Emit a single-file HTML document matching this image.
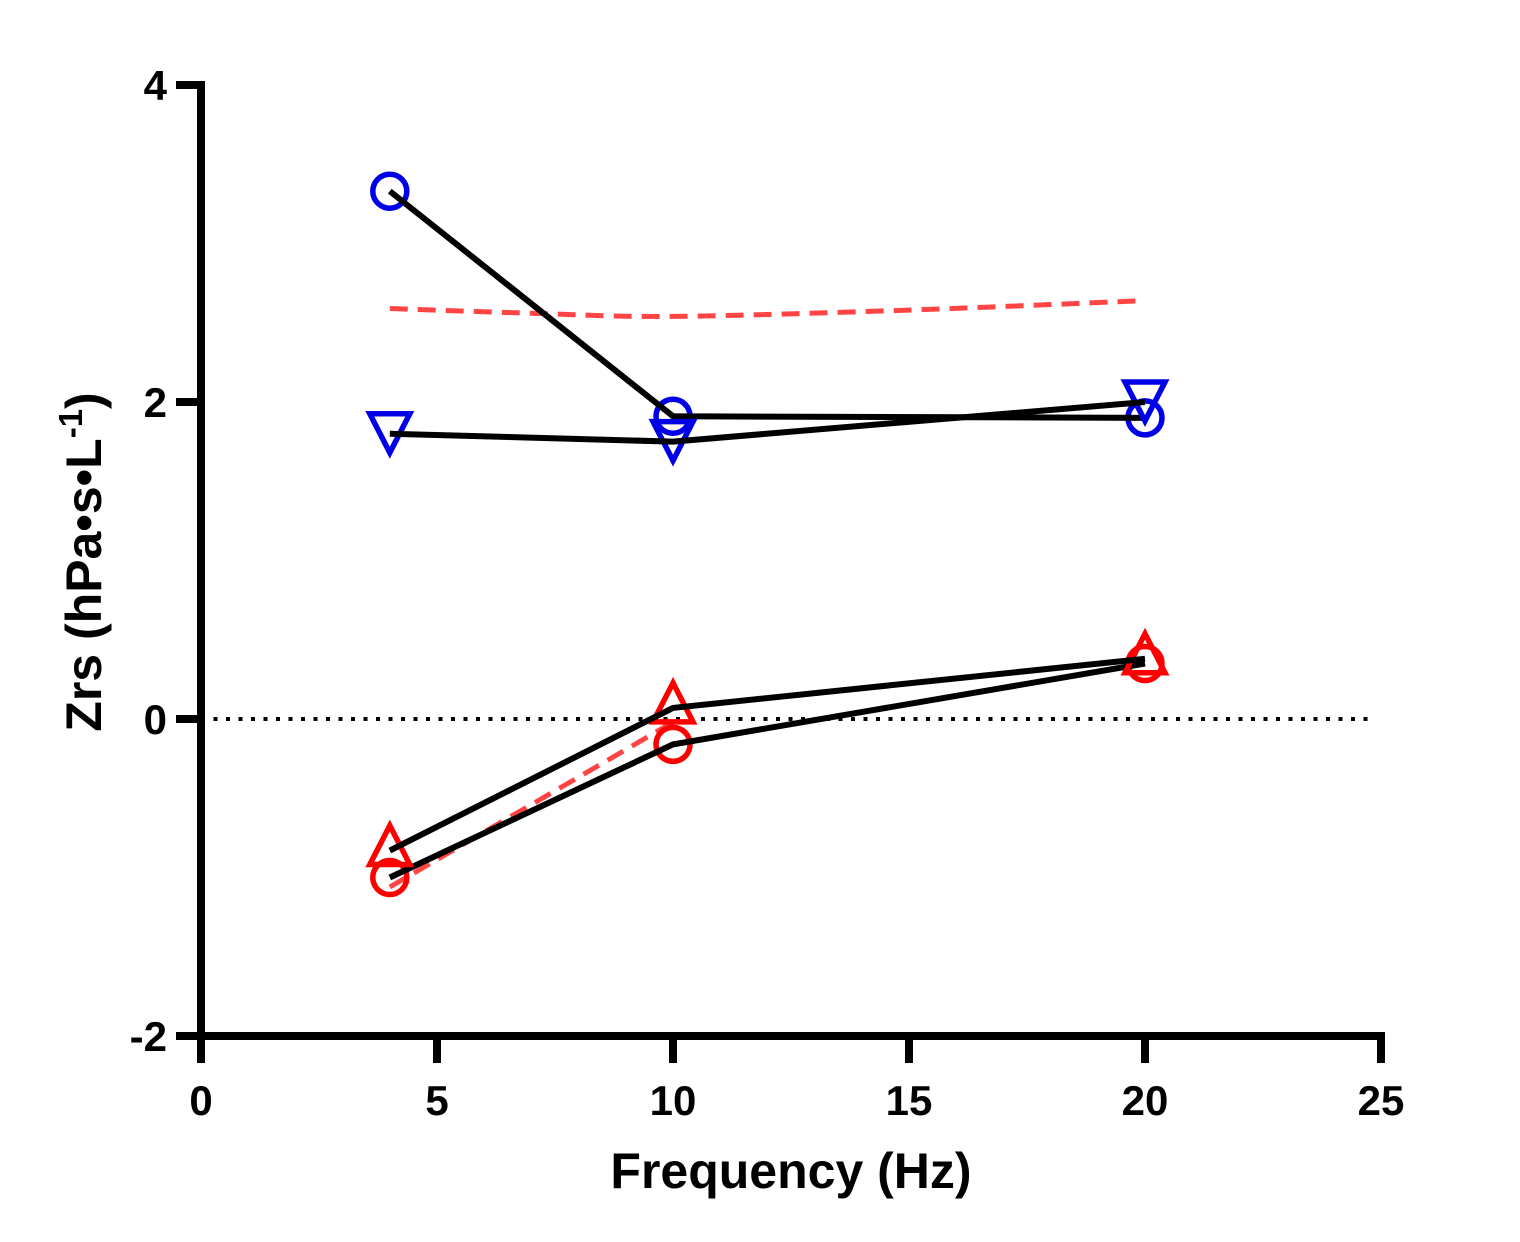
<!DOCTYPE html>
<html><head><meta charset="utf-8"><style>
html,body{margin:0;padding:0;background:#fff}
svg{display:block}
text{font-family:"Liberation Sans",Arial,sans-serif;font-weight:bold;fill:#000}
</style></head><body>
<svg id="chart" width="1520" height="1242" viewBox="0 0 1520 1242" xmlns="http://www.w3.org/2000/svg">
<g id="grid"></g>
<g id="series"></g>
<g id="axes"></g>
</svg>
<script>
const freqs = [4, 10, 20];
const blueCircle = [3.33, 1.91, 1.90];
const blueTriangle = [1.80, 1.75, 2.00];
const redCircle = [-1.00, -0.16, 0.35];
const redTriangle = [-0.83, 0.07, 0.38];
const fitUpperX = [4, 7, 10, 15, 20];
const fitUpperY = [2.59, 2.56, 2.54, 2.58, 2.64];
const fitLowerX = [4, 10];
const fitLowerY = [-1.06, -0.02];
const xTicks = [0, 5, 10, 15, 20, 25];
const yTicks = [-2, 0, 2, 4];

const NS = "http://www.w3.org/2000/svg";
const X0 = 201, X1 = 1381, Y0 = 1036, Y1 = 85;
const xs = v => X0 + (v - 0) / 25 * (X1 - X0);
const ys = v => Y0 - (v + 2) / 6 * (Y0 - Y1);
function mk(tag, attrs, parent) {
  const e = document.createElementNS(NS, tag);
  for (const k in attrs) e.setAttribute(k, attrs[k]);
  parent.appendChild(e);
  return e;
}
const S = document.getElementById('series');
const A = document.getElementById('axes');
const G = document.getElementById('grid');

const zl = mk('line', {x1: X0, x2: 1375, y1: ys(0), y2: ys(0), stroke: '#000', 'stroke-width': 4, 'stroke-dasharray': '4 8.5'}, G);



function smoothPath(xa, ya) {
  let d = '';
  for (let i = 0; i < xa.length; i++) {
    const px = xs(xa[i]), py = ys(ya[i]);
    if (i === 0) { d += `M${px},${py}`; continue; }
    const p0x = xs(xa[Math.max(i - 2, 0)]), p0y = ys(ya[Math.max(i - 2, 0)]);
    const p1x = xs(xa[i - 1]), p1y = ys(ya[i - 1]);
    const p3x = xs(xa[Math.min(i + 1, xa.length - 1)]), p3y = ys(ya[Math.min(i + 1, xa.length - 1)]);
    const c1x = p1x + (px - p0x) / 6, c1y = p1y + (py - p0y) / 6;
    const c2x = px - (p3x - p1x) / 6, c2y = py - (p3y - p1y) / 6;
    d += ` C${c1x},${c1y} ${c2x},${c2y} ${px},${py}`;
  }
  return d;
}
const fu = mk('path', {d: smoothPath(fitUpperX, fitUpperY), fill: 'none', stroke: '#f44', 'stroke-width': 5, 'stroke-dasharray': '18 10'}, S);


const fl = mk('path', {d: smoothPath(fitLowerX, fitLowerY), fill: 'none', stroke: '#f44', 'stroke-width': 5, 'stroke-dasharray': '18 10'}, S);



function series(vals, color, shape, name) {
  const g = mk('g', {}, S);
  
  
  vals.forEach((v, i) => {
    const cx = xs(freqs[i]), cy = ys(v);
    let m;
    if (shape === 'circle') m = mk('circle', {cx, cy, r: 17, fill: 'none', stroke: color, 'stroke-width': 5.5}, g);
    else if (shape === 'down') m = mk('polygon', {points: `${cx-20},${cy-20} ${cx+20},${cy-20} ${cx},${cy+19}`, fill: 'none', stroke: color, 'stroke-width': 5.5}, g);
    else m = mk('polygon', {points: `${cx-20},${cy+14} ${cx+20},${cy+14} ${cx},${cy-25}`, fill: 'none', stroke: color, 'stroke-width': 5.5}, g);
    
    
  });
  const pl = mk('polyline', {points: vals.map((v, i) => `${xs(freqs[i])},${ys(v)}`).join(' '), fill: 'none', stroke: '#000', 'stroke-width': 6}, g);
  
  
}
series(blueCircle, '#0000e6', 'circle', 'blue-circle-series');
series(blueTriangle, '#0000e6', 'down', 'blue-triangle-series');
series(redCircle, '#f00', 'circle', 'red-circle-series');
series(redTriangle, '#f00', 'up', 'red-triangle-series');

const ya = mk('line', {x1: X0, x2: X0, y1: Y1 - 4, y2: Y0 + 4, stroke: '#000', 'stroke-width': 8}, A);


const xa = mk('line', {x1: X0 - 4, x2: X1 + 4, y1: Y0, y2: Y0, stroke: '#000', 'stroke-width': 8}, A);


yTicks.forEach(t => {
  const l = mk('line', {x1: 176, x2: X0, y1: ys(t), y2: ys(t), stroke: '#000', 'stroke-width': 8}, A);
  
  
  const tx = mk('text', {x: 167, y: ys(t) + 15, 'text-anchor': 'end', 'font-size': 42}, A);
  tx.textContent = t;
  
  
});
xTicks.forEach(t => {
  const l = mk('line', {x1: xs(t), x2: xs(t), y1: Y0, y2: 1063, stroke: '#000', 'stroke-width': 8}, A);
  
  
  const tx = mk('text', {x: xs(t), y: 1115, 'text-anchor': 'middle', 'font-size': 42}, A);
  tx.textContent = t;
  
  
});
</script>
<svg style="position:absolute;left:0;top:0" width="1520" height="1242">
<text x="791" y="1188" text-anchor="middle" font-size="50">Frequency (Hz)</text>
<text transform="translate(101,562) rotate(-90)" text-anchor="middle" font-size="50">Zrs (hPa•s•L<tspan dy="-19" font-size="33">-1</tspan><tspan dy="19">)</tspan></text>
</svg>
</body></html>
